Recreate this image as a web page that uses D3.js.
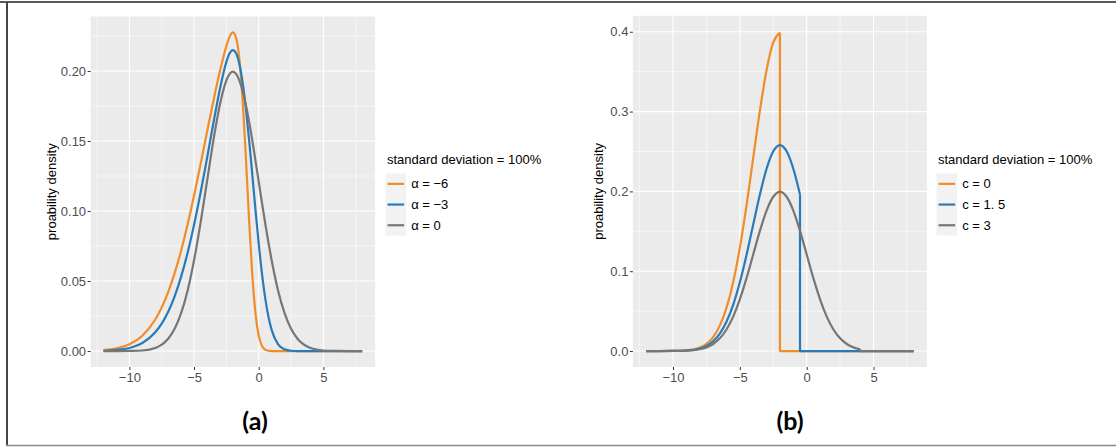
<!DOCTYPE html>
<html>
<head>
<meta charset="utf-8">
<script src="https://cdn.jsdelivr.net/npm/d3@7"></script>
<style>
	body { margin: 0; background: #fff; }
	svg { display: block; font-family: "Liberation Sans", Arial, sans-serif; }
	.tick-label { fill: #4d4d4d; font-size: 13px; }
	.axis-title { fill: #000; font-size: 13px; }
	.legend-text { fill: #000; font-size: 13px; }
	.panel-label { font-family: Lato, "Open Sans", sans-serif; font-weight: bold; font-size: 25px; fill: #000; }
</style>
</head>
<body>
<div id="chart"></div>
<script>

// ---- panel (a): skewness alpha ----
let xGridA = [-12, -11, -10, -9, -8, -7.5, -7, -6.5, -6, -5.5, -5, -4.5, -4, -3.5, -3, -2.5,
	-2.25, -2, -1.75, -1.5, -1.25, -1, -0.75, -0.5, -0.25, 0, 0.25, 0.5, 0.75, 1,
	1.5, 2, 2.5, 3, 4, 5, 6, 7, 8];

let alphaMinus6 = [0.0007, 0.0019, 0.0048, 0.0109, 0.0225, 0.0312, 0.0421, 0.0556, 0.0717, 0.0903, 0.1110, 0.1333, 0.1562, 0.1788, 0.1999, 0.2178,
	0.2244, 0.2275, 0.2237, 0.2089, 0.1802, 0.1395, 0.0945, 0.0549, 0.0269, 0.0110, 0.0037, 0.0010, 0.0002, 0,
	0, 0, 0, 0, 0, 0, 0, 0, 0];

let alphaMinus3 = [0.0002, 0.0008, 0.0022, 0.0057, 0.0134, 0.0196, 0.0281, 0.0391, 0.0531, 0.0701, 0.0901, 0.1128, 0.1375, 0.1630, 0.1872, 0.2065,
	0.2126, 0.2149, 0.2127, 0.2052, 0.1921, 0.1738, 0.1514, 0.1264, 0.1008, 0.0767, 0.0554, 0.0380, 0.0246, 0.0151,
	0.0048, 0.0012, 0.0002, 0, 0, 0, 0, 0, 0];

let alphaZero = [0, 0, 0.0001, 0.0004, 0.0022, 0.0046, 0.0088, 0.0159, 0.0270, 0.0431, 0.0648, 0.0913, 0.1210, 0.1506, 0.1760, 0.1933,
	0.1979, 0.1995, 0.1979, 0.1933, 0.1859, 0.1760, 0.1641, 0.1506, 0.1360, 0.1210, 0.1059, 0.0913, 0.0775, 0.0648,
	0.0431, 0.0270, 0.0159, 0.0088, 0.0022, 0.0004, 0.0001, 0, 0];

let legendA = ["\u03b1 = \u22126", "\u03b1 = \u22123", "\u03b1 = 0"];
let yTicksA = [0, 0.05, 0.10, 0.15, 0.20];

// ---- panel (b): truncation c ----
// each series stops at its cut point, then drops to zero and stays there
let xGridB = [-12, -11, -10, -9, -8, -7.5, -7, -6.5, -6, -5.5, -5, -4.5, -4, -3.5, -3, -2.5, -2,
	-1.5, -1, -0.5, 0, 0.5, 1, 1.5, 2, 2.5, 3, 3.5, 4];

let cZero = [0, 0.00002, 0.0001, 0.0009, 0.0044, 0.0091, 0.0175, 0.0318, 0.0540, 0.0862, 0.1295, 0.1826, 0.2420, 0.3011, 0.3521, 0.3867, 0.3989];

let cOneHalf = [0, 0.00001, 0.0001, 0.0007, 0.0032, 0.0065, 0.0122, 0.0218, 0.0367, 0.0579, 0.0861, 0.1204, 0.1584, 0.1961, 0.2284, 0.2503, 0.2580,
	0.2503, 0.2284, 0.1961];

let cThree = [0, 0.00001, 0.0001, 0.0004, 0.0022, 0.0046, 0.0088, 0.0159, 0.0270, 0.0431, 0.0648, 0.0913, 0.1210, 0.1506, 0.1760, 0.1933, 0.1995,
	0.1933, 0.1760, 0.1506, 0.1210, 0.0913, 0.0648, 0.0431, 0.0270, 0.0159, 0.0088, 0.0046, 0.0022];

let legendB = ["c = 0", "c = 1. 5", "c = 3"];
let yTicksB = [0, 0.1, 0.2, 0.3, 0.4];

let xTicks = [-10, -5, 0, 5];
let xEnd = 8;
let legendTitle = "standard deviation = 100%";
let colors = ["#f28c28", "#2a7ab9", "#767676"];


class DensityPanel {

	constructor(svg, config) {
		this.svg = svg;
		this.config = config;
		this.initVis();
	}

	initVis() {
		let vis = this;
		let c = vis.config;

		vis.x = d3.scaleLinear().domain([-13, 9]).range([c.left, c.right]);
		vis.y = d3.scaleLinear().domain(c.yDomain).range([c.bottom, c.top]);

		vis.g = vis.svg.append("g");

		// panel background
		vis.g.append("rect")
			.attr("x", c.left)
			.attr("y", c.top)
			.attr("width", c.right - c.left)
			.attr("height", c.bottom - c.top)
			.attr("fill", "#ebebeb");

		// minor grid
		let xMinor = [-12.5, -7.5, -2.5, 2.5, 7.5];
		let yMinor = c.yTicks.slice(0, -1).map((d, i) => (d + c.yTicks[i + 1]) / 2);
		let last = c.yTicks[c.yTicks.length - 1];
		let step = c.yTicks[1] - c.yTicks[0];
		if (last + step / 2 < c.yDomain[1]) yMinor.push(last + step / 2);

		vis.g.selectAll("line.vminor")
			.data(xMinor)
			.enter().append("line")
			.attr("x1", d => vis.x(d)).attr("x2", d => vis.x(d))
			.attr("y1", c.top).attr("y2", c.bottom)
			.attr("stroke", "#fff").attr("stroke-width", 0.55);

		vis.g.selectAll("line.hminor")
			.data(yMinor)
			.enter().append("line")
			.attr("y1", d => vis.y(d)).attr("y2", d => vis.y(d))
			.attr("x1", c.left).attr("x2", c.right)
			.attr("stroke", "#fff").attr("stroke-width", 0.55);

		// major grid
		vis.g.selectAll("line.vmajor")
			.data(xTicks)
			.enter().append("line")
			.attr("x1", d => vis.x(d)).attr("x2", d => vis.x(d))
			.attr("y1", c.top).attr("y2", c.bottom)
			.attr("stroke", "#fff").attr("stroke-width", 1.1);

		vis.g.selectAll("line.hmajor")
			.data(c.yTicks)
			.enter().append("line")
			.attr("y1", d => vis.y(d)).attr("y2", d => vis.y(d))
			.attr("x1", c.left).attr("x2", c.right)
			.attr("stroke", "#fff").attr("stroke-width", 1.1);

		// axes
		vis.yAxis = d3.axisLeft(vis.y)
			.tickValues(c.yTicks)
			.tickFormat(d3.format(c.yFormat))
			.tickSize(3)
			.tickPadding(1.5);

		vis.xAxis = d3.axisBottom(vis.x)
			.tickValues(xTicks)
			.tickSize(3)
			.tickPadding(3);

		vis.g.append("g")
			.attr("transform", "translate(" + c.left + ",0)")
			.call(vis.yAxis);

		vis.g.append("g")
			.attr("transform", "translate(0," + c.bottom + ")")
			.call(vis.xAxis);

		vis.g.selectAll(".domain").remove();
		vis.g.selectAll(".tick line").attr("stroke", "#333").attr("stroke-width", 1);
		vis.g.selectAll(".tick text")
			.attr("class", "tick-label")
			.attr("font-family", null)
			.attr("font-size", null)
			.attr("fill", null);

		vis.g.append("text")
			.attr("class", "axis-title")
			.attr("transform", "translate(" + c.titleX + "," + ((c.top + c.bottom) / 2) + ") rotate(-90)")
			.attr("text-anchor", "middle")
			.attr("dy", "0.35em")
			.text("proability density");

		// curves
		vis.line = d3.line()
			.x(d => vis.x(d[0]))
			.y(d => vis.y(d[1]))
			.curve(d3.curveMonotoneX);

		vis.flat = d3.line()
			.x(d => vis.x(d[0]))
			.y(d => vis.y(d[1]));

		c.series.forEach(function (s, i) {
			let pts = s.map((v, j) => [c.xGrid[j], v]);
			vis.g.append("path")
				.attr("d", vis.line(pts))
				.attr("fill", "none")
				.attr("stroke", colors[i])
				.attr("stroke-width", 2.2)
				.attr("stroke-linejoin", "round");

			let lastPt = pts[pts.length - 1];
			if (lastPt[0] < xEnd) {
				vis.g.append("path")
					.attr("d", vis.flat([lastPt, [lastPt[0], 0], [xEnd, 0]]))
					.attr("fill", "none")
					.attr("stroke", colors[i])
					.attr("stroke-width", 2.2)
					.attr("stroke-linejoin", "round");
			}
		});

		// legend
		let keySize = 20.7;
		vis.g.append("text")
			.attr("class", "legend-text")
			.attr("x", c.legendX + 1.5)
			.attr("y", c.legendY)
			.text(legendTitle);

		let items = vis.g.selectAll("g.legend-item")
			.data(c.legend)
			.enter().append("g")
			.attr("class", "legend-item")
			.attr("transform", (d, i) => "translate(" + c.legendX + "," + (c.legendY + 10 + i * keySize) + ")");

		items.append("rect")
			.attr("width", keySize)
			.attr("height", keySize)
			.attr("fill", "#f2f2f2");

		items.append("line")
			.attr("x1", keySize * 0.1).attr("x2", keySize * 0.9)
			.attr("y1", keySize / 2).attr("y2", keySize / 2)
			.attr("stroke", (d, i) => colors[i])
			.attr("stroke-width", 2.2);

		items.append("text")
			.attr("class", "legend-text")
			.attr("x", keySize + 5)
			.attr("y", keySize / 2)
			.attr("dy", "0.35em")
			.text(d => d);

		vis.g.append("text")
			.attr("class", "panel-label")
			.attr("x", c.labelX)
			.attr("y", 430)
			.attr("text-anchor", "middle")
			.text(c.label);
	}
}


let svg = d3.select("#chart").append("svg")
	.attr("width", 1116)
	.attr("height", 447);

svg.append("rect").attr("width", 1116).attr("height", 447).attr("fill", "#fff");

// frame round the figure
svg.append("line").attr("x1", 0).attr("x2", 1116).attr("y1", 2).attr("y2", 2)
	.attr("stroke", "#222").attr("stroke-width", 1.5);
svg.append("line").attr("x1", 7).attr("x2", 7).attr("y1", 2).attr("y2", 446)
	.attr("stroke", "#444").attr("stroke-width", 2);
svg.append("line").attr("x1", 6).attr("x2", 1116).attr("y1", 445.5).attr("y2", 445.5)
	.attr("stroke", "#8a8a8a").attr("stroke-width", 1.5);

new DensityPanel(svg, {
	left: 90.6, right: 375.1, top: 16.5, bottom: 367,
	yDomain: [-0.0114, 0.2389], yTicks: yTicksA, yFormat: ".2f",
	xGrid: xGridA, series: [alphaMinus6, alphaMinus3, alphaZero],
	legend: legendA, legendX: 385.5, legendY: 163.5,
	titleX: 51, label: "(a)", labelX: 255
});

new DensityPanel(svg, {
	left: 632.9, right: 927, top: 15.8, bottom: 367,
	yDomain: [-0.02, 0.42], yTicks: yTicksB, yFormat: ".1f",
	xGrid: xGridB, series: [cZero, cOneHalf, cThree],
	legend: legendB, legendX: 936.5, legendY: 163.5,
	titleX: 598.5, label: "(b)", labelX: 790
});

</script>
</body>
</html>
